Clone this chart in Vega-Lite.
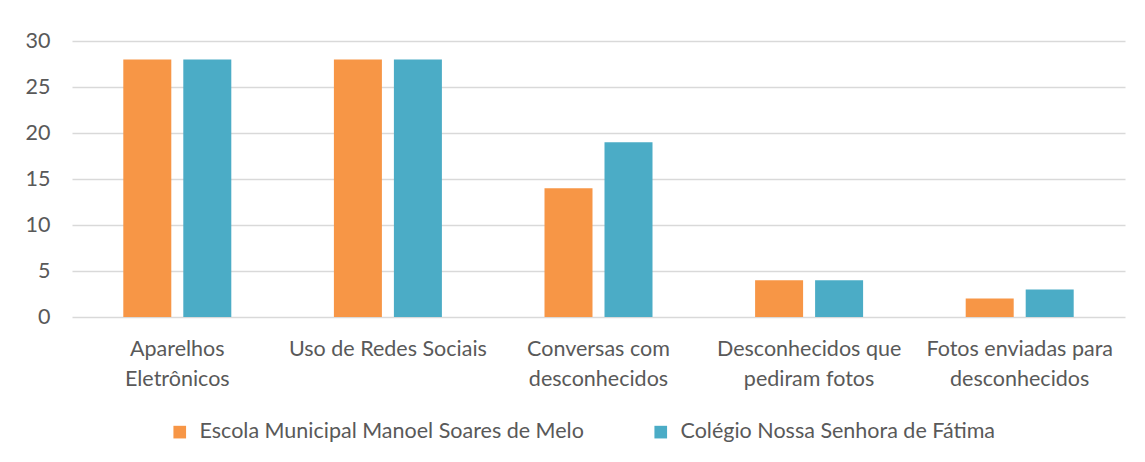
{
  "$schema": "https://vega.github.io/schema/vega-lite/v6.json",
  "width": 1053,
  "height": 276,
  "autosize": {"type": "none"},
  "padding": {"left": 72, "top": 41, "right": 20, "bottom": 145},
  "background": "white",
  "config": {
    "view": {"stroke": null},
    "font": "Lato",
    "axis": {"labelFont": "Lato", "labelColor": "#595959", "labelFontSize": 21.5, "domain": false, "ticks": false, "tickSize": 0, "title": null},
    "legend": {"labelFont": "Lato", "labelColor": "#595959", "labelFontSize": 21.5, "labelLimit": 600}
  },
  "data": {
    "values": [
      {"categoria": "Aparelhos Eletrônicos", "escola": "Escola Municipal Manoel Soares de Melo", "valor": 28},
      {"categoria": "Aparelhos Eletrônicos", "escola": "Colégio Nossa Senhora de Fátima", "valor": 28},
      {"categoria": "Uso de Redes Sociais", "escola": "Escola Municipal Manoel Soares de Melo", "valor": 28},
      {"categoria": "Uso de Redes Sociais", "escola": "Colégio Nossa Senhora de Fátima", "valor": 28},
      {"categoria": "Conversas com desconhecidos", "escola": "Escola Municipal Manoel Soares de Melo", "valor": 14},
      {"categoria": "Conversas com desconhecidos", "escola": "Colégio Nossa Senhora de Fátima", "valor": 19},
      {"categoria": "Desconhecidos que pediram fotos", "escola": "Escola Municipal Manoel Soares de Melo", "valor": 4},
      {"categoria": "Desconhecidos que pediram fotos", "escola": "Colégio Nossa Senhora de Fátima", "valor": 4},
      {"categoria": "Fotos enviadas para desconhecidos", "escola": "Escola Municipal Manoel Soares de Melo", "valor": 2},
      {"categoria": "Fotos enviadas para desconhecidos", "escola": "Colégio Nossa Senhora de Fátima", "valor": 3}
    ]
  },
  "mark": {"type": "bar"},
  "encoding": {
    "x": {
      "field": "categoria", "type": "nominal", "sort": null,
      "scale": {"paddingInner": 0, "paddingOuter": 0},
      "axis": {
        "labelAngle": 0, "labelPadding": 21, "labelBaseline": "top", "labelLineHeight": 30, "labelLimit": 300,
        "labelExpr": "datum.value == 'Aparelhos Eletrônicos' ? ['Aparelhos', 'Eletrônicos'] : datum.value == 'Conversas com desconhecidos' ? ['Conversas com', 'desconhecidos'] : datum.value == 'Desconhecidos que pediram fotos' ? ['Desconhecidos que', 'pediram fotos'] : datum.value == 'Fotos enviadas para desconhecidos' ? ['Fotos enviadas para', 'desconhecidos'] : datum.value"
      }
    },
    "xOffset": {
      "field": "escola", "type": "nominal",
      "sort": ["Escola Municipal Manoel Soares de Melo", "Colégio Nossa Senhora de Fátima"],
      "scale": {"paddingInner": 0.2, "paddingOuter": 0.855}
    },
    "y": {
      "field": "valor", "type": "quantitative",
      "scale": {"domain": [0, 30], "nice": false},
      "axis": {"values": [0, 5, 10, 15, 20, 25, 30], "labelPadding": 22, "gridColor": "#D9D9D9", "gridWidth": 1.3}
    },
    "color": {
      "field": "escola", "type": "nominal",
      "sort": ["Escola Municipal Manoel Soares de Melo", "Colégio Nossa Senhora de Fátima"],
      "scale": {"range": ["#F79646", "#4BACC6"]},
      "legend": {"title": null, "orient": "none", "direction": "horizontal", "legendX": 97, "legendY": 380, "symbolType": "square", "symbolSize": 160, "symbolStrokeWidth": 0, "symbolOpacity": 1, "columnPadding": 66, "labelOffset": 9}
    }
  }
}
